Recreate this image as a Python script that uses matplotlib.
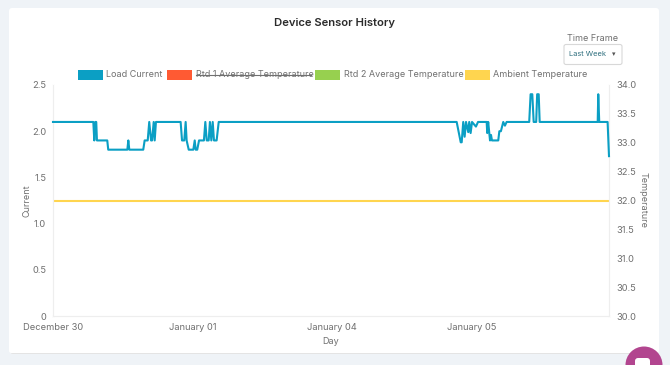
import matplotlib
matplotlib.use("Agg")
import matplotlib.pyplot as plt
from matplotlib.patches import FancyBboxPatch, Rectangle, Circle

# x is in tick units: 100 = one labelled step on the category axis
load_x = [0, 28.9, 29.6, 30.3, 31.0, 31.5, 38.9, 39.6, 53.3, 54, 54.7, 64.7, 65.7, 67.9, 69,
          70.3, 71, 72.2, 72.9, 73.8, 91.5, 92.5, 94.1, 95.1, 95.8, 97.3, 100.6, 101.6, 102.3,
          103.4, 104.7, 108.2, 109.2, 110.2, 111.6, 112.5, 113.5, 114.5, 115.4, 117.3, 118.8,
          289.4, 292.3, 293, 294.1, 295.1, 296.1, 297.7, 298.4, 299.4, 300.4, 303.2, 304.7,
          310.9, 311.3, 312, 313.3, 314, 314.7, 315.7, 319.2, 320, 321.1, 322.8, 324, 325.2,
          341.4, 342.4, 343.6, 344.6, 346.4, 347.1, 348.2, 348.9, 390.5, 390.9, 391.6, 397.6, 398.6]
load_y = [2.1, 2.1, 1.9, 2.1, 2.1, 1.9, 1.9, 1.8, 1.8, 1.9, 1.8, 1.8, 1.9, 1.9, 2.1,
          1.9, 1.9, 2.1, 1.9, 2.1, 2.1, 1.9, 1.9, 2.1, 1.9, 1.8, 1.8, 1.9, 1.8,
          1.8, 1.9, 1.9, 2.1, 1.9, 1.9, 2.1, 1.9, 2.1, 1.9, 1.9, 2.1,
          2.1, 1.88, 1.88, 2.1, 1.94, 2.1, 1.99, 2.1, 1.98, 2.1, 2.05, 2.1,
          2.1, 1.98, 2.1, 1.9, 1.96, 1.9, 1.9, 1.9, 2.0, 2.0, 2.1, 2.06, 2.1,
          2.1, 2.4, 2.4, 2.1, 2.1, 2.4, 2.4, 2.1, 2.1, 2.4, 2.1, 2.1, 1.73]

ambient_x = [0, 398.6]
ambient_y = [32, 32]

x_ticks = [0, 100, 200, 300]
x_labels = ["December 30", "January 01", "January 04", "January 05"]
current_ticks = [0, 0.5, 1.0, 1.5, 2.0, 2.5]
current_labels = ["0", "0.5", "1.0", "1.5", "2.0", "2.5"]
temp_ticks = [30, 30.5, 31, 31.5, 32, 32.5, 33, 33.5, 34]

legend_names = ["Load Current", "Rtd 1 Average Temperature", "Rtd 2 Average Temperature", "Ambient Temperature"]
legend_colors = ["#0b9fc4", "#ff5a33", "#97d04f", "#ffd54f"]

plt.rcParams["font.family"] = ["Inter", "DejaVu Sans"]
TEXT = "#707070"

fig = plt.figure(figsize=(6.7, 3.65), dpi=100, facecolor="#eff3f7")

# page furniture in pixel coordinates
bg = fig.add_axes([0, 0, 1, 1])
bg.set_xlim(0, 670)
bg.set_ylim(365, 0)
bg.axis("off")
bg.add_patch(FancyBboxPatch((10, 9), 648, 345, boxstyle="round,pad=0,rounding_size=3",
                            fc="#c9c9c9", ec="none"))
bg.add_patch(FancyBboxPatch((9, 8), 650, 345.5, boxstyle="round,pad=0,rounding_size=3",
                            fc="white", ec="none"))
bg.text(334, 22.5, "Device Sensor History", fontsize=8.1, fontweight="semibold", color="#2b2b2b",
        ha="center", va="center")
bg.text(593, 38.5, "Time Frame", fontsize=6.5, color=TEXT, ha="center", va="center")
bg.add_patch(FancyBboxPatch((564, 44.5), 58, 20, boxstyle="round,pad=0,rounding_size=2",
                            fc="white", ec="#d8d8d8", lw=0.8))
bg.text(569, 54, "Last Week", fontsize=5.4, color="#2f6f7e", va="center")
bg.text(614, 54.5, "▾", fontsize=5, color="#555555", ha="center", va="center")
bg.add_patch(Circle((644, 365), 18.5, fc="#b2458f", ec="none", clip_on=True))
bg.add_patch(FancyBboxPatch((635, 358), 15, 12, boxstyle="round,pad=0,rounding_size=3",
                            fc="white", ec="none"))

# legend
swatch_x = [78, 167, 315, 465]
text_x = [106.5, 195.5, 343.5, 493]
text_end = [None, 311, None, None]
for sx, tx, end, name, col in zip(swatch_x, text_x, text_end, legend_names, legend_colors):
    bg.add_patch(Rectangle((sx, 70), 25, 10, fc=col, ec="none"))
    bg.text(tx, 74.5, name, fontsize=6.5, color=TEXT, va="center")
    if end:
        bg.plot([tx, end], [74.5, 74.5], color=TEXT, lw=0.8)

# chart axes
ax = fig.add_axes([53 / 670, 1 - 316 / 365, 556 / 670, 231 / 365])
ax.patch.set_alpha(0)
ax2 = ax.twinx()

ax2.plot(ambient_x, ambient_y, color=legend_colors[3], lw=1.5)
ax.plot(load_x, load_y, color=legend_colors[0], lw=1.5, solid_joinstyle="round", clip_on=False, zorder=3)
ax.set_zorder(ax2.get_zorder() + 1)

ax.set_xlim(0, 398.6)
ax.set_ylim(0, 2.5)
ax2.set_ylim(30, 34)

ax.set_xticks(x_ticks)
ax.set_xticklabels(x_labels)
ax.set_yticks(current_ticks)
ax.set_yticklabels(current_labels)
ax2.set_yticks(temp_ticks)
ax2.set_yticklabels([f"{t:.1f}" for t in temp_ticks])

for a in (ax, ax2):
    a.tick_params(length=0, labelsize=6.7, labelcolor=TEXT, pad=5)
    a.spines["top"].set_visible(False)
    for s in ("left", "right", "bottom"):
        a.spines[s].set_color("#eeeeee")
ax2.tick_params(axis="y", pad=5)

ax.set_xlabel("Day", fontsize=6.5, color=TEXT, labelpad=4)
ax.set_ylabel("Current", fontsize=6.5, color=TEXT, labelpad=0)
ax2.set_ylabel("Temperature", fontsize=6.5, color=TEXT, rotation=270, labelpad=8)

fig.savefig("out.png", dpi=100, facecolor=fig.get_facecolor())
